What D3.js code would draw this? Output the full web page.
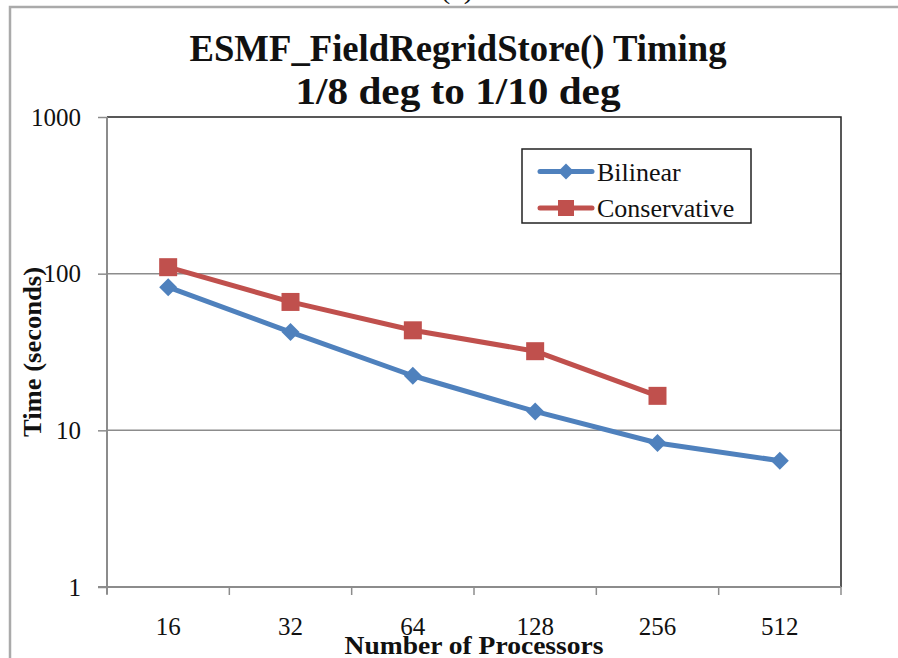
<!DOCTYPE html>
<html>
<head>
	<meta charset="utf-8">
	<title>ESMF_FieldRegridStore() Timing</title>
	<script src="https://cdn.jsdelivr.net/npm/d3@7"></script>
	<style>
		body { margin: 0; background: #fff; }
		text { font-family: "Liberation Serif", "DejaVu Serif", serif; fill: #111; }
	</style>
</head>
<body>
	<div id="chart"></div>

	<script type="text/javascript">
		// data
		let procs = ["16", "32", "64", "128", "256", "512"];
		let bilinear = [82, 42.4, 22.3, 13.2, 8.3, 6.4];
		let conservative = [110, 66, 43.5, 32, 16.6];
		let yTicks = [1, 10, 100, 1000];
		let titleLines = ["ESMF_FieldRegridStore() Timing", "1/8 deg to 1/10 deg"];

		let W = 898, H = 658;
		let plotLeft = 107, plotRight = 841, plotTop = 117, plotBottom = 587;
		let blue = "#4F81BD", red = "#C0504D";

		let svg = d3.select("#chart").append("svg")
			.attr("width", W)
			.attr("height", H);

		svg.append("rect").attr("width", W).attr("height", H).attr("fill", "#fff");

		// outer frame (runs off the right and bottom edges)
		svg.append("path")
			.attr("d", "M10," + H + " L10,7 L" + W + ",7")
			.attr("fill", "none")
			.attr("stroke", "#aaa")
			.attr("stroke-width", 2.5);

		// caption above the frame, cut off by the page top like in the source
		svg.append("text")
			.attr("x", 457).attr("y", -2)
			.attr("text-anchor", "middle")
			.style("font-size", "30px")
			.text("(a)");

		// title
		svg.append("text")
			.attr("x", 458).attr("y", 61)
			.attr("text-anchor", "middle")
			.attr("textLength", 537).attr("lengthAdjust", "spacingAndGlyphs")
			.style("font-size", "37px").style("font-weight", "bold")
			.text(titleLines[0]);
		svg.append("text")
			.attr("x", 458).attr("y", 104)
			.attr("text-anchor", "middle")
			.attr("textLength", 325).attr("lengthAdjust", "spacingAndGlyphs")
			.style("font-size", "37px").style("font-weight", "bold")
			.text(titleLines[1]);

		let x = d3.scaleBand().domain(procs).range([plotLeft, plotRight]);
		let y = d3.scaleLog().domain([1, 1000]).range([plotBottom, plotTop]);
		let cx = d => x(d) + x.bandwidth() / 2;

		// grid lines
		svg.selectAll(".grid")
			.data([10, 100])
			.enter().append("line")
			.attr("x1", plotLeft).attr("x2", plotRight)
			.attr("y1", d => y(d)).attr("y2", d => y(d))
			.attr("stroke", "#8c8c8c")
			.attr("stroke-width", 1.5);

		// plot area border (top / right dark)
		svg.append("path")
			.attr("d", "M" + plotLeft + "," + y(1000) + " L" + plotRight + "," + y(1000) + " L" + plotRight + "," + plotBottom)
			.attr("fill", "none")
			.attr("stroke", "#222")
			.attr("stroke-width", 1.5);

		// y axis
		let yAxis = svg.append("g")
			.attr("transform", "translate(" + plotLeft + ",0)")
			.call(d3.axisLeft(y).tickValues(yTicks).tickFormat(d3.format("d")).tickSize(9).tickSizeOuter(0).tickPadding(17));
		yAxis.select(".domain").remove();
		yAxis.selectAll("line").attr("stroke", "#8c8c8c").attr("stroke-width", 1.5);
		yAxis.selectAll("text")
			.style("font-size", "25px")
			.style("font-family", "'Liberation Serif', serif")
			.attr("fill", "#111");

		svg.append("line")
			.attr("x1", plotLeft).attr("x2", plotLeft)
			.attr("y1", plotTop).attr("y2", plotBottom + 7)
			.attr("stroke", "#8c8c8c").attr("stroke-width", 2);

		// x axis
		let xAxis = svg.append("g")
			.attr("transform", "translate(0," + plotBottom + ")")
			.call(d3.axisBottom(x).tickSize(0).tickPadding(30));
		xAxis.select(".domain").remove();
		xAxis.selectAll("text")
			.style("font-size", "25px")
			.style("font-family", "'Liberation Serif', serif")
			.attr("fill", "#111");

		svg.append("line")
			.attr("x1", plotLeft - 9).attr("x2", plotRight)
			.attr("y1", plotBottom).attr("y2", plotBottom)
			.attr("stroke", "#8c8c8c").attr("stroke-width", 2);

		let edges = procs.map(d => x(d)).concat([plotRight]);
		svg.selectAll(".xtick")
			.data(edges)
			.enter().append("line")
			.attr("x1", d => d).attr("x2", d => d)
			.attr("y1", plotBottom).attr("y2", plotBottom + 8)
			.attr("stroke", "#8c8c8c").attr("stroke-width", 1.5);

		// axis titles
		svg.append("text")
			.attr("transform", "translate(41,352) rotate(-90)")
			.attr("text-anchor", "middle")
			.attr("textLength", 170).attr("lengthAdjust", "spacingAndGlyphs")
			.style("font-size", "25px").style("font-weight", "bold")
			.text("Time (seconds)");
		svg.append("text")
			.attr("x", 474).attr("y", 654)
			.attr("text-anchor", "middle")
			.attr("textLength", 259).attr("lengthAdjust", "spacingAndGlyphs")
			.style("font-size", "25px").style("font-weight", "bold")
			.text("Number of Processors");

		// series
		let line = d3.line().x(d => cx(d.p)).y(d => y(d.v));
		let diamond = r => "M0," + (-r) + " L" + r + ",0 L0," + r + " L" + (-r) + ",0 Z";
		let square = s => "M" + (-s) + "," + (-s) + " h" + (2 * s) + " v" + (2 * s) + " h" + (-2 * s) + " Z";

		let bilData = bilinear.map((v, i) => ({ p: procs[i], v: v }));
		let conData = conservative.map((v, i) => ({ p: procs[i], v: v }));

		svg.append("path")
			.datum(bilData)
			.attr("d", line)
			.attr("fill", "none").attr("stroke", blue)
			.attr("stroke-width", 5).attr("stroke-linejoin", "round");
		svg.selectAll(".bil")
			.data(bilData)
			.enter().append("path")
			.attr("d", diamond(9))
			.attr("transform", d => "translate(" + cx(d.p) + "," + y(d.v) + ")")
			.attr("fill", blue);

		svg.append("path")
			.datum(conData)
			.attr("d", line)
			.attr("fill", "none").attr("stroke", red)
			.attr("stroke-width", 5).attr("stroke-linejoin", "round");
		svg.selectAll(".con")
			.data(conData)
			.enter().append("path")
			.attr("d", square(9))
			.attr("transform", d => "translate(" + cx(d.p) + "," + y(d.v) + ")")
			.attr("fill", red);

		// legend
		svg.append("rect")
			.attr("x", 522).attr("y", 149)
			.attr("width", 229).attr("height", 74)
			.attr("fill", "#fff")
			.attr("stroke", "#222").attr("stroke-width", 1.5);

		let legendItems = [
			{ name: "Bilinear", color: blue, mark: diamond(8), y: 171.5 },
			{ name: "Conservative", color: red, mark: square(8), y: 208 }
		];
		let lg = svg.selectAll(".legend")
			.data(legendItems)
			.enter().append("g")
			.attr("transform", d => "translate(0," + d.y + ")");
		lg.append("line")
			.attr("x1", 540).attr("x2", 592)
			.attr("stroke", d => d.color)
			.attr("stroke-width", 5).attr("stroke-linecap", "round");
		lg.append("path")
			.attr("d", d => d.mark)
			.attr("transform", "translate(566,0)")
			.attr("fill", d => d.color);
		lg.append("text")
			.attr("x", 597).attr("dy", "0.35em")
			.style("font-size", "26px")
			.text(d => d.name);
	</script>
</body>
</html>
